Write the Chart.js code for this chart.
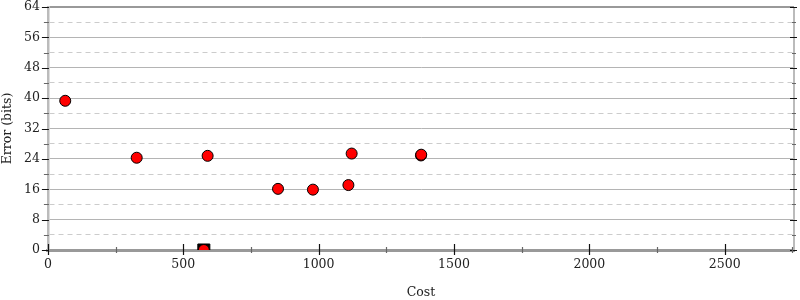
<!DOCTYPE html>
<html>
<head>
<meta charset="utf-8">
<script src="https://cdn.jsdelivr.net/npm/chart.js@4/dist/chart.umd.min.js"></script>
<style>
  html, body { margin: 0; padding: 0; background: #fff; }
  #wrap { width: 800px; height: 300px; }
</style>
</head>
<body>
<div id="wrap"><canvas id="myChart"></canvas></div>
<script>
// candidate points (cost vs error)
var cost  = [64, 328, 590, 576, 850, 979, 1110, 1122, 1378, 1379];
var error = [39.3, 24.3, 24.8, 0, 16.1, 15.9, 17.1, 25.4, 24.9, 25.1];

// best point (marked with a square)
var bestCost  = [576];
var bestError = [0];

var xMax = 2756;
var yMax = 64;
var xLabels = [0, 500, 1000, 1500, 2000, 2500];
var yLabels = [0, 8, 16, 24, 32, 40, 48, 56, 64];
var yGrid = [0, 4, 8, 12, 16, 20, 24, 28, 32, 36, 40, 44, 48, 52, 56, 60, 64];

var serif = 'DejaVu Serif';

// tick marks drawn on the axes
const axisTicks = {
    id: 'axisTicks',
    afterDraw(chart) {
        const c = chart.ctx;
        const a = chart.chartArea;
        const xs = chart.scales.x;
        const ys = chart.scales.y;
        c.save();
        // right border
        c.strokeStyle = '#bbbbbb';
        c.lineWidth = 2;
        c.beginPath();
        c.moveTo(a.right, a.top);
        c.lineTo(a.right, a.bottom);
        c.stroke();
        c.lineWidth = 1.2;
        yGrid.forEach(v => {
            const py = Math.round(ys.getPixelForValue(v)) + 0.5;
            const major = yLabels.includes(v);
            c.strokeStyle = major ? '#111' : '#666';
            c.beginPath();
            c.moveTo(a.left - (major ? 6 : 4), py);
            c.lineTo(a.left + 1, py);
            c.moveTo(a.right - (major ? 4 : 2), py);
            c.lineTo(a.right + (major ? 3 : 2), py);
            c.stroke();
        });
        for (let v = 0; v <= xMax; v += 250) {
            const px = Math.round(xs.getPixelForValue(v)) + 0.5;
            const major = xLabels.includes(v);
            c.strokeStyle = major ? '#111' : '#666';
            c.beginPath();
            c.moveTo(px, a.bottom - (major ? 6 : 3));
            c.lineTo(px, a.bottom + (major ? 5 : 3));
            c.stroke();
        }
        c.restore();
    }
};

const ctx = document.getElementById('myChart').getContext('2d');
const data = {
    datasets: [{
        label: 'candidates',
        data: cost.map((x, i) => ({ x: x, y: error[i] })),
        backgroundColor: '#ff0000',
        borderColor: '#000000',
        borderWidth: 1,
        pointRadius: 5.5,
        pointHoverRadius: 5.5,
        order: 1
    }, {
        label: 'best',
        data: bestCost.map((x, i) => ({ x: x, y: bestError[i] })),
        pointStyle: 'rect',
        backgroundColor: '#000000',
        borderColor: '#000000',
        borderWidth: 1,
        pointRadius: 8.5,
        pointHoverRadius: 8.5,
        order: 2
    }]
};
const config = {
    type: 'scatter',
    data: data,
    options: {
        responsive: true,
        maintainAspectRatio: false,
        animation: false,
        layout: { autoPadding: false, padding: { left: 0, right: 6, top: 4, bottom: 0 } },
        plugins: {
            legend: { display: false },
            tooltip: { enabled: false }
        },
        scales: {
            x: {
                type: 'linear',
                min: 0,
                max: xMax,
                afterBuildTicks: (s) => { s.ticks = xLabels.map(v => ({ value: v })); },
                afterFit: (s) => { s.paddingLeft = 0; s.paddingRight = 0; },
                ticks: {
                    padding: 7,
                    color: '#222',
                    font: { family: serif, size: 12.5 },
                    maxRotation: 0,
                    autoSkip: false,
                    callback: (v) => String(v)
                },
                grid: { drawOnChartArea: false, drawTicks: false },
                border: { display: true, color: '#999999', width: 3 },
                title: {
                    display: true,
                    text: 'Cost',
                    color: '#222',
                    font: { family: serif, size: 12.5 },
                    padding: { top: 6, bottom: 0 }
                }
            },
            y: {
                type: 'linear',
                min: 0,
                max: yMax,
                afterBuildTicks: (s) => { s.ticks = yGrid.map(v => ({ value: v })); },
                afterFit: (s) => { s.paddingTop = 7; s.paddingBottom = 0; },
                ticks: {
                    padding: 8,
                    color: '#222',
                    font: { family: serif, size: 12.5 },
                    autoSkip: false,
                    callback: (v) => yLabels.includes(v) ? String(v) : ''
                },
                grid: {
                    drawTicks: false,
                    color: (c) => c.tick && c.tick.value === yMax ? '#999999' : (c.tick && yLabels.includes(c.tick.value) ? '#b4b4b4' : '#cccccc'),
                    lineWidth: (c) => c.tick && c.tick.value === yMax ? 2 : 1
                },
                border: {
                    display: true,
                    color: '#bbbbbb',
                    width: 2.5,
                    dash: (c) => c.tick && !yLabels.includes(c.tick.value) ? [5, 4] : []
                },
                title: {
                    display: true,
                    text: 'Error (bits)',
                    color: '#222',
                    font: { family: serif, size: 12.5 },
                    padding: { top: 0, bottom: 1 }
                }
            }
        }
    },
    plugins: [axisTicks]
};
const myChart = new Chart(ctx, config);
</script>
</body>
</html>
